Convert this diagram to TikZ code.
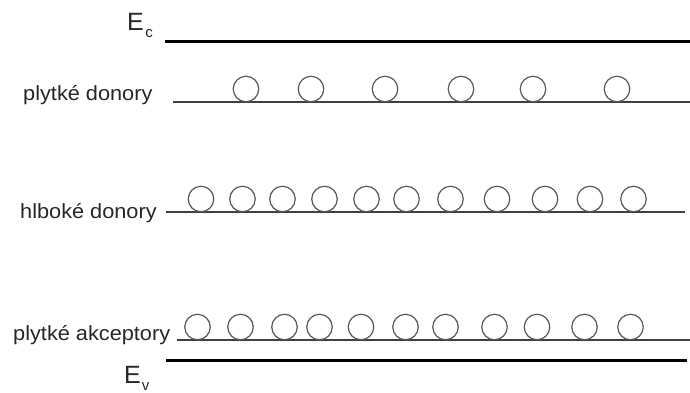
\documentclass[tikz,border=0pt]{standalone}
\usepackage{fontspec}
\setmainfont{Liberation Sans}
\newcommand{\widetxt}[1]{\scalebox{1.06}[1]{#1}}
\begin{document}
\begin{tikzpicture}[x=1pt,y=-1pt,
  band/.style={line width=3pt,black},
  level/.style={line width=1.3pt,black!75},
  dot/.style={circle,draw=black!65,line width=1.2pt,minimum size=25.5pt,inner sep=0pt},
  lab/.style={anchor=base west,inner sep=0pt,text=black!85,font=\fontsize{20.5}{24}\selectfont},
  elab/.style={anchor=base west,inner sep=0pt,text=black!85,font=\fontsize{25}{28}\selectfont}]
\useasboundingbox (0,0) rectangle (690,392);
% labels
\node[elab] (ec) at (127,30) {E\hspace{1.5pt}\raisebox{-7pt}{\fontsize{15}{15}\selectfont c}};
\node[elab] (ev) at (124,383) {E\hspace{1pt}\raisebox{-7pt}{\fontsize{15}{15}\selectfont v}};
\node[lab] (pd) at (23,100) {\widetxt{plytké donory}};
\node[lab] (hd) at (20,218) {\widetxt{hlboké donory}};
\node[lab] (pa) at (13,340) {\widetxt{plytké akceptory}};
% levels
\coordinate (ec1) at (165,41); \coordinate (ec2) at (690,41);
\coordinate (pd1) at (173,102); \coordinate (pd2) at (690,102);
\coordinate (hd1) at (166,212); \coordinate (hd2) at (685,212);
\coordinate (pa1) at (177,340); \coordinate (pa2) at (690,340);
\coordinate (ev1) at (166,360); \coordinate (ev2) at (687,360);
\draw[band] (ec1) -- (ec2);
\draw[band] (ev1) -- (ev2);
\draw[level] (pd1) -- (pd2);
\draw[level] (hd1) -- (hd2);
\draw[level] (pa1) -- (pa2);
% shallow donors
\foreach \x [count=\i] in {246,311,385,461,533,617}
  \node[dot] (d\i) at (\x,89) {};
% deep donors
\foreach \x [count=\i] in {201,242.5,282.5,324.5,366.5,406.5,450.5,497,545,590,633.5}
  \node[dot] (h\i) at (\x,199) {};
% shallow acceptors
\foreach \x [count=\i] in {197.5,240.5,284.5,319.5,361,405.5,445.5,494.5,537,584.5,630.5}
  \node[dot] (a\i) at (\x,327) {};
\end{tikzpicture}
\end{document}
